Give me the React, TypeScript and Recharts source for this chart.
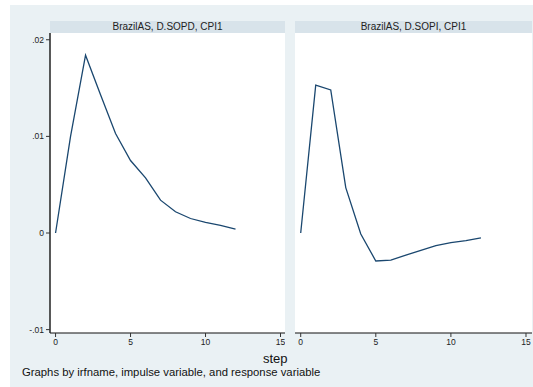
import { LineChart, Line, XAxis, YAxis, CartesianGrid } from 'recharts'

// impulse-response steps and the two response series
const steps = [0, 1, 2, 3, 4, 5, 6, 7, 8, 9, 10, 11, 12]
const sopdResponse = [0, 0.01, 0.0184, 0.0143, 0.0103, 0.0075, 0.0057, 0.0034, 0.0022, 0.0015, 0.0011, 0.0008, 0.0004]
const sopiResponse = [0, 0.0153, 0.0148, 0.0047, -0.0001, -0.0029, -0.0028, -0.0023, -0.0018, -0.0013, -0.001, -0.0008, -0.0005]

const panelTitles = ['BrazilAS, D.SOPD, CPI1', 'BrazilAS, D.SOPI, CPI1']
const yTicks = [-0.01, 0, 0.01, 0.02]
const xTicks = [0, 5, 10, 15]

const FONT = '"Liberation Sans", Arial, sans-serif'
const LINE = '#1a476f'
const BG = '#eaf1f4'
const STRIP = '#d8e3ea'
const GRID = '#e4edf0'
const AXIS = '#333'

const fmtY = (v: number) => (v === 0 ? '0' : String(v).replace('0.', '.'))

const sopdData = steps.map((s, i) => ({ step: s, irf: sopdResponse[i] }))
const sopiData = steps.map((s, i) => ({ step: s, irf: sopiResponse[i] }))

const tickStyle = { fill: '#222', fontSize: 8.5, fontFamily: FONT }

function Panel({
  data,
  title,
  left,
  width,
  showY,
  xDomain,
}: {
  data: { step: number; irf: number }[]
  title: string
  left: number
  width: number
  showY: boolean
  xDomain: [number, number]
}) {
  const yW = showY ? 40 : 0
  return (
    <>
      <div
        style={{
          position: 'absolute',
          left: left + yW,
          top: 21,
          width: width - yW,
          height: 12,
          background: STRIP,
          fontFamily: FONT,
          fontSize: 10,
          lineHeight: '12px',
          textAlign: 'center',
          color: '#222',
        }}
      >
        {title}
      </div>
      <div style={{ position: 'absolute', left, top: 33 }}>
        <LineChart width={width} height={330} data={data} margin={{ top: 0, right: 0, bottom: 0, left: 0 }}>
          <rect x={yW} y={0} width={width - yW} height={300} fill="#fff" />
          <CartesianGrid
            horizontal
            vertical={false}
            stroke={GRID}
            strokeWidth={1}
            horizontalValues={yTicks}
          />
          <XAxis
            dataKey="step"
            type="number"
            domain={xDomain}
            allowDataOverflow
            ticks={xTicks}
            tick={tickStyle}
            tickSize={4}
            tickLine={{ stroke: AXIS }}
            axisLine={{ stroke: '#111', strokeWidth: 1.2 }}
            height={30}
            tickMargin={2}
          />
          <YAxis
            type="number"
            domain={[-0.01035, 0.0207]}
            allowDataOverflow
            ticks={yTicks}
            tickFormatter={fmtY}
            tick={tickStyle}
            tickSize={4}
            tickLine={{ stroke: AXIS }}
            axisLine={{ stroke: '#222', strokeWidth: 1.5 }}
            width={40}
            tickMargin={2}
            hide={!showY}
          />
          <Line
            type="linear"
            dataKey="irf"
            stroke={LINE}
            strokeWidth={1.3}
            dot={false}
            isAnimationActive={false}
          />
        </LineChart>
      </div>
    </>
  )
}

export default function App() {
  return (
    <div style={{ position: 'absolute', left: 0, top: 0, width: 533, height: 387, background: '#fff', overflow: 'hidden' }}>
      <div style={{ position: 'absolute', left: 10, top: 5, width: 523, height: 382, background: BG }} />
      <Panel data={sopdData} title={panelTitles[0]} left={10} width={275} showY xDomain={[-0.37, 15.3]} />
      <Panel data={sopiData} title={panelTitles[1]} left={295} width={237} showY={false} xDomain={[-0.38, 15.4]} />
      <div
        style={{
          position: 'absolute',
          left: 263,
          top: 351,
          fontFamily: FONT,
          fontSize: 13,
          color: '#111',
        }}
      >
        step
      </div>
      <div
        style={{
          position: 'absolute',
          left: 22,
          top: 366,
          fontFamily: FONT,
          fontSize: 11.3,
          color: '#111',
        }}
      >
        Graphs by irfname, impulse variable, and response variable
      </div>
    </div>
  )
}
